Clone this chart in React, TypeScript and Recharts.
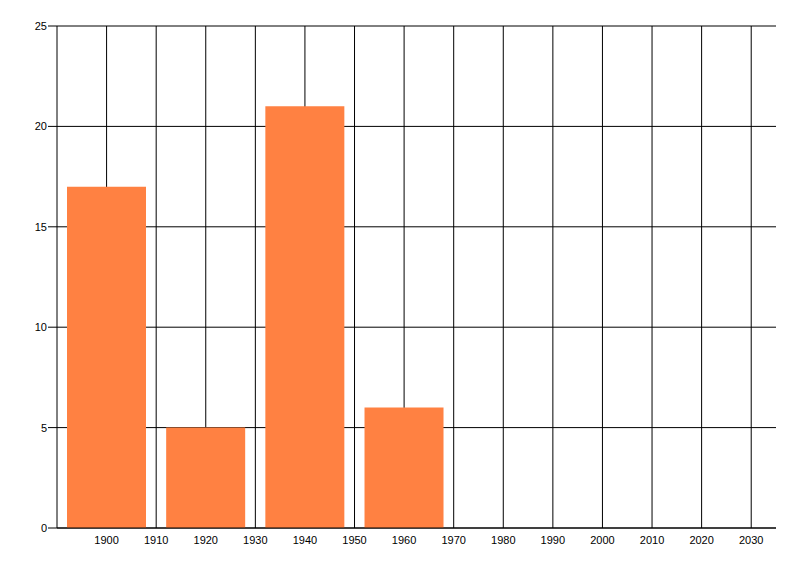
import { Bar, BarChart, CartesianGrid, XAxis, YAxis } from "recharts";

// decades with a value, and the counts for each
const years = [1900, 1920, 1940, 1960];
const counts = [17, 5, 21, 6];

const xTicks = [1900, 1910, 1920, 1930, 1940, 1950, 1960, 1970, 1980, 1990, 2000, 2010, 2020, 2030];
const yTicks = [0, 5, 10, 15, 20, 25];

const data = years.map((year, i) => ({ year, count: counts[i] }));

const tickStyle = { fontFamily: "Liberation Sans, Arial, sans-serif", fontSize: 11, fill: "#000" };

export default function App()
{
    return (
        <div style={{ position: "absolute", left: 0, top: 0, width: 800, height: 576, background: "#fff" }}>
            <BarChart
                width={800}
                height={576}
                data={data}
                margin={{ top: 26, right: 24, bottom: 18, left: 0 }}
            >
                {/* syncWithTicks: grid lines only at the ticks, none at the right edge */}
                <CartesianGrid stroke="#000" strokeWidth={1} syncWithTicks />
                <XAxis
                    dataKey="year"
                    type="number"
                    domain={[1890, 2035]}
                    ticks={xTicks}
                    interval={0}
                    allowDataOverflow
                    height={30}
                    tick={tickStyle}
                    tickLine={false}
                    tickSize={8}
                    tickMargin={0}
                    axisLine={{ stroke: "#000" }}
                />
                <YAxis
                    domain={[0, 25]}
                    ticks={yTicks}
                    interval={0}
                    width={57}
                    tick={tickStyle}
                    tickSize={9}
                    tickMargin={1}
                    tickLine={{ stroke: "#000" }}
                    axisLine={{ stroke: "#000" }}
                />
                <Bar dataKey="count" fill="#FF8142" barSize={79} isAnimationActive={false} />
            </BarChart>
        </div>
    );
}
